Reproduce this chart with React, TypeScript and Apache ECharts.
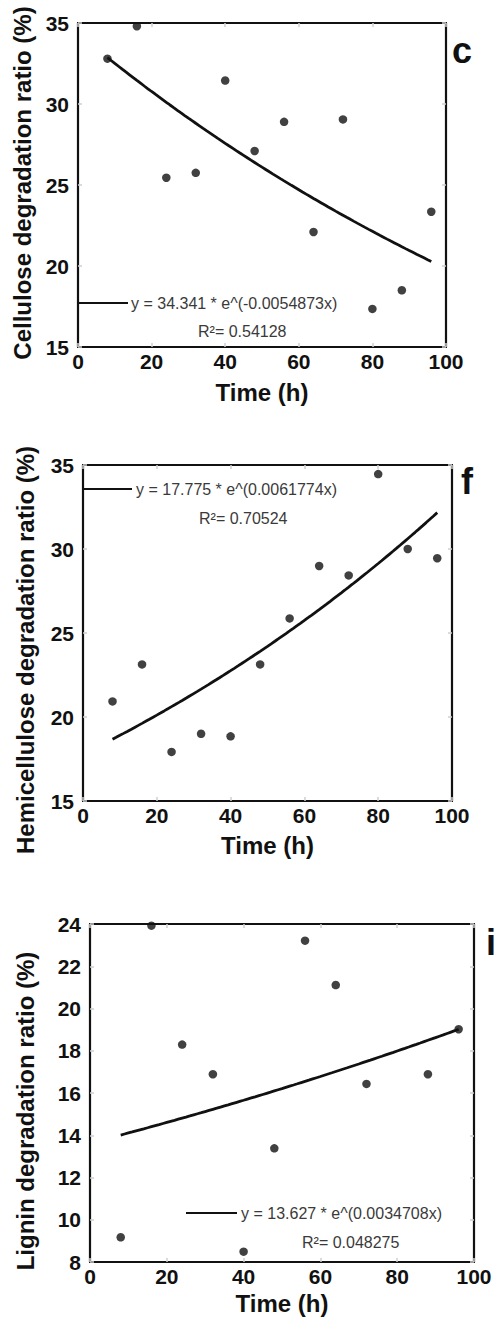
import React, { useEffect, useRef } from "react";
import * as echarts from "echarts";

// ---- data ----
const timeC = [8, 16, 24, 32, 40, 48, 56, 64, 72, 80, 88, 96];
const cellulose = [32.8, 34.8, 25.45, 25.75, 31.45, 27.1, 28.9, 22.1, 29.05, 17.35, 18.5, 23.35];

const timeF = [8, 16, 24, 32, 40, 48, 56, 64, 72, 80, 88, 96];
const hemicellulose = [20.93, 23.13, 17.92, 19.0, 18.85, 23.13, 25.87, 28.99, 28.43, 34.46, 30.0, 29.45];

const timeI = [8, 16, 24, 32, 40, 48, 56, 64, 72, 88, 96];
const lignin = [9.17, 23.92, 18.29, 16.89, 8.49, 13.38, 23.21, 21.11, 16.43, 16.89, 19.02];

// exponential fits shown in the figure: y = a * e^(b x)
const fitA = [34.341, 17.775, 13.627];
const fitB = [-0.0054873, 0.0061774, 0.0034708];
const fitLabels = [
  "y = 34.341 * e^(-0.0054873x)",
  "y = 17.775 * e^(0.0061774x)",
  "y = 13.627 * e^(0.0034708x)",
];
const r2Labels = ["R\u00b2= 0.54128", "R\u00b2= 0.70524", "R\u00b2= 0.048275"];

const yTitles = [
  "Cellulose degradation ratio (%)",
  "Hemicellulose degradation ratio (%)",
  "Lignin degradation ratio (%)",
];
const xTitle = "Time (h)";
const panelLetters = ["c", "f", "i"];

const xMin = 0;
const xMax = 100;
const xInterval = 20;
const yMins = [15, 15, 8];
const yMaxs = [35, 35, 24];
const yIntervals = [5, 5, 2];

// ---- layout ----
const grids = [
  { left: 78, top: 23, width: 368, height: 324 },
  { left: 83, top: 465, width: 369, height: 336 },
  { left: 90, top: 924, width: 384, height: 338 },
];
const xNameGaps = [33, 32, 29];
const yNameGaps = [41, 46, 53];
const yNamePads = [
  [0, 0, 0, 4],
  [0, 34, 0, 0],
  [0, 36, 0, 0],
];
const legendPos = [
  { lx1: 78, lx2: 128, ly: 303, tx: 131, r2x: 198, r2y: 331 },
  { lx1: 83, lx2: 132, ly: 489, tx: 136, r2x: 199, r2y: 518 },
  { lx1: 186, lx2: 237, ly: 1213, tx: 241, r2x: 302, r2y: 1242 },
];
const letterPos = [
  { x: 462, y: 50 },
  { x: 467, y: 481 },
  { x: 491, y: 942 },
];

const FONT = "'Liberation Sans', Arial, Helvetica, sans-serif";

function fitCurve(i: number, xs: number[]) {
  const out: number[][] = [];
  const x0 = xs[0];
  const x1 = xs[xs.length - 1];
  for (let x = x0; x <= x1 + 1e-9; x += 1) {
    out.push([x, fitA[i] * Math.exp(fitB[i] * x)]);
  }
  return out;
}

export default function App() {
  const ref = useRef<HTMLDivElement>(null);

  useEffect(() => {
    if (!ref.current) return;
    const chart = echarts.init(ref.current, undefined, { renderer: "svg" });

    const times = [timeC, timeF, timeI];
    const values = [cellulose, hemicellulose, lignin];

    const gridOpts: any[] = [];
    const xAxes: any[] = [];
    const yAxes: any[] = [];
    const series: any[] = [];
    const graphic: any[] = [];

    const tickStyle = { show: true, inside: true, length: 4, lineStyle: { color: "#cfcfcf", width: 1.5 } };
    const frameLine = { show: true, onZero: false, lineStyle: { color: "#111", width: 2.2 } };

    for (let i = 0; i < 3; i++) {
      gridOpts.push({
        ...grids[i],
        show: false,
        containLabel: false,
      });
      // bottom x axis
      xAxes.push({
        type: "value",
        gridIndex: i,
        min: xMin,
        max: xMax,
        interval: xInterval,
        position: "bottom",
        axisLine: frameLine,
        axisTick: tickStyle,
        splitLine: { show: false },
        axisLabel: { color: "#111", fontSize: 21, fontWeight: "bold", fontFamily: FONT, margin: 4 },
        name: xTitle,
        nameLocation: "middle",
        nameGap: xNameGaps[i],
        nameTextStyle: { color: "#111", fontSize: 24, fontWeight: "bold", fontFamily: FONT },
      });
      // top x axis (frame + ticks only)
      xAxes.push({
        type: "value",
        gridIndex: i,
        min: xMin,
        max: xMax,
        interval: xInterval,
        position: "top",
        axisLine: frameLine,
        axisTick: tickStyle,
        splitLine: { show: false },
        axisLabel: { show: false },
      });
      yAxes.push({
        type: "value",
        gridIndex: i,
        min: yMins[i],
        max: yMaxs[i],
        interval: yIntervals[i],
        position: "left",
        axisLine: frameLine,
        axisTick: tickStyle,
        splitLine: { show: false },
        axisLabel: { color: "#111", fontSize: 21, fontWeight: "bold", fontFamily: FONT, margin: 9 },
        name: yTitles[i],
        nameLocation: "middle",
        nameGap: yNameGaps[i],
        nameTextStyle: {
          color: "#111",
          fontSize: 24,
          fontWeight: "bold",
          fontFamily: FONT,
          padding: yNamePads[i],
        },
      });
      yAxes.push({
        type: "value",
        gridIndex: i,
        min: yMins[i],
        max: yMaxs[i],
        interval: yIntervals[i],
        position: "right",
        axisLine: frameLine,
        axisTick: tickStyle,
        splitLine: { show: false },
        axisLabel: { show: false },
      });

      series.push({
        type: "line",
        xAxisIndex: i * 2,
        yAxisIndex: i * 2,
        data: fitCurve(i, times[i]),
        showSymbol: false,
        symbol: "none",
        lineStyle: { color: "#111", width: 2.8 },
        z: 2,
      });
      series.push({
        type: "scatter",
        xAxisIndex: i * 2,
        yAxisIndex: i * 2,
        data: times[i].map((t, k) => [t, values[i][k]]),
        symbol: "circle",
        symbolSize: 8.5,
        itemStyle: { color: "#111" },
        clip: false,
        z: 3,
      });

      const lp = legendPos[i];
      graphic.push({
        type: "line",
        shape: { x1: lp.lx1, y1: lp.ly, x2: lp.lx2, y2: lp.ly },
        style: { stroke: "#111", lineWidth: 2.2 },
        z: 10,
      });
      graphic.push({
        type: "text",
        x: lp.tx,
        y: lp.ly,
        style: {
          text: fitLabels[i],
          fill: "#3a3a3a",
          fontSize: 16,
          fontFamily: FONT,
          textAlign: "left",
          textVerticalAlign: "middle",
        },
        z: 10,
      });
      graphic.push({
        type: "text",
        x: lp.r2x,
        y: lp.r2y,
        style: {
          text: r2Labels[i],
          fill: "#3a3a3a",
          fontSize: 16,
          fontFamily: FONT,
          textAlign: "left",
          textVerticalAlign: "middle",
        },
        z: 10,
      });
      graphic.push({
        type: "text",
        x: letterPos[i].x,
        y: letterPos[i].y,
        style: {
          text: panelLetters[i],
          fill: "#111",
          fontSize: 36,
          fontWeight: "bold",
          fontFamily: FONT,
          textAlign: "center",
          textVerticalAlign: "middle",
        },
        z: 10,
      });
    }

    chart.setOption({
      animation: false,
      backgroundColor: "#ffffff",
      grid: gridOpts,
      xAxis: xAxes,
      yAxis: yAxes,
      series,
      graphic,
    });

    return () => {
      chart.dispose();
    };
  }, []);

  return (
    <div
      ref={ref}
      style={{ position: "absolute", left: 0, top: 0, width: 495, height: 1320, background: "#fff" }}
    />
  );
}
